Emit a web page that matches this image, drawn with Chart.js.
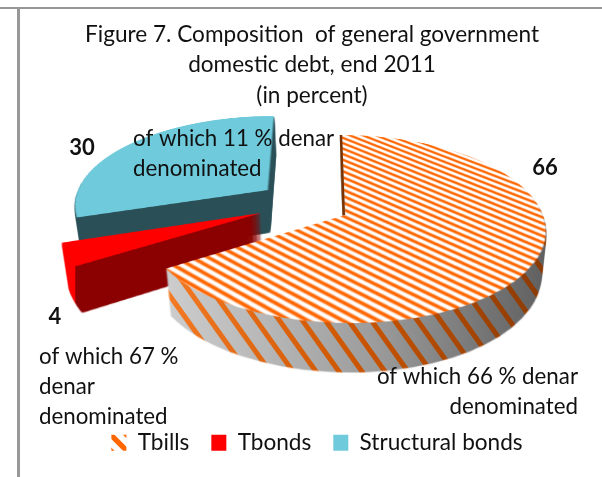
<!DOCTYPE html>
<html>
<head>
<meta charset="utf-8">
<title>Figure 7</title>
<script src="https://cdn.jsdelivr.net/npm/chart.js"></script>
<style>
    body { margin: 0; background: #fff; width: 602px; height: 477px; overflow: hidden; position: relative; }
    canvas { display: block; }
    #rule-top { position: absolute; left: 0; top: 7px; width: 602px; height: 2px; background: #989898; }
    #rule-left { position: absolute; left: 17px; top: 7px; width: 3px; height: 470px; background: #989898; }
</style>
</head>
<body>
<canvas id="chart-canvas" width="602" height="477"></canvas>
<div id="rule-top"></div>
<div id="rule-left"></div>
<script>
const categories = ['Tbills', 'Tbonds', 'Structural bonds'];
const shares = [66, 4, 30];
const titleLines = ['Figure 7. Composition  of general government', 'domestic debt, end 2011', '(in percent)'];
const noteTexts = [
    ['of which 66 % denar', 'denominated'],
    ['of which 67 %', 'denar', 'denominated'],
    ['of which 11 % denar', 'denominated']
];

//where the value and the note of each slice sit
const valueSpots = [[545, 168], [55, 317], [82, 148]];
const noteSpots = [[578, 377, 'right'], [39, 357, 'left'], [133, 139, 'left']];
const LINE_GAP = 30;

//flat disc -> picture: y = (a*v + b) / (1 + c*v), x = (b2 + k*u + g*v) / (1 + c*v)
const APEX_X = 345, APEX_Y = 215;
const PERSP = -0.149, V_GAIN = 59.9, U_GAIN = 198, SKEW = -47;
//how far each slice is pulled out of the pie, in disc units
const sliceShift = [[0, 0], [-0.425, -0.022], [-0.40, -0.283]];
const DEPTH = 44;

function project(u, v) {
    const w = 1 + PERSP * v;
    return [(APEX_X + U_GAIN * u + SKEW * v) / w, (V_GAIN * v + APEX_Y) / w];
}

function stripePattern(size, originX, originY) {
    const tile = document.createElement('canvas');
    tile.width = tile.height = size;
    const t = tile.getContext('2d');
    t.fillStyle = '#fff';
    t.fillRect(0, 0, size, size);
    t.strokeStyle = '#ff6600';
    t.lineWidth = size * 0.33;
    [-size, 0, size].forEach(off => {
        t.beginPath();
        t.moveTo(off - 4, -4);
        t.lineTo(off + size + 4, size + 4);
        t.stroke();
    });
    const pattern = t.createPattern(tile, 'repeat');
    pattern.setTransform(new DOMMatrix().translate(originX, originY));
    return pattern;
}

function newLayer() {
    const c = document.createElement('canvas');
    c.width = 602;
    c.height = 477;
    return c;
}

//bends one flat arc of the chart into the tilted view
function warpArc(arc, shift) {
    const R = arc.outerRadius;
    const size = Math.ceil(R * 2 + 20);
    const flat = document.createElement('canvas');
    flat.width = flat.height = size;
    const f = flat.getContext('2d');
    f.save();
    f.translate(size / 2 - arc.x, size / 2 - arc.y);
    arc.draw(f);
    f.restore();

    const out = newLayer();
    const o = out.getContext('2d');
    const rowV = y => (y - APEX_Y) / (V_GAIN - PERSP * y);
    for (let y = 90; y < 400; y++) {
        const v = rowV(y), vNext = rowV(y + 1);
        const vs = v - shift[1];
        if (Math.abs(vs) > 1.05) continue;
        const half = size / (2 * R);
        const left = project(-half + shift[0], v)[0];
        const right = project(half + shift[0], v)[0];
        o.drawImage(flat, 0, size / 2 + vs * R, size, (vNext - v) * R, left, y, right - left, 1);
    }
    return out;
}

//stacks the top shape downwards and paints the stack
function buildWall(top, paint) {
    const wall = newLayer();
    const w = wall.getContext('2d');
    for (let d = DEPTH; d > 0; d--) {
        const t = d / DEPTH;
        const sx = 1 - 0.025 * t, sy = 1 + 0.05 * t;
        w.setTransform(sx, 0, 0, sy, APEX_X * (1 - sx), APEX_Y * (1 - sy) + d);
        w.drawImage(top, 0, 0);
    }
    w.setTransform(1, 0, 0, 1, 0, 0);
    w.globalCompositeOperation = 'source-atop';
    paint(w);
    return wall;
}

function billsWall(w) {
    const gray = w.createLinearGradient(165, 0, 545, 0);
    gray.addColorStop(0, '#cdcdcd');
    gray.addColorStop(0.25, '#b8b8b8');
    gray.addColorStop(0.55, '#9c9c9c');
    gray.addColorStop(1, '#606060');
    w.fillStyle = gray;
    w.fillRect(0, 0, 602, 477);
    const stripe = w.createLinearGradient(165, 0, 545, 0);
    stripe.addColorStop(0, '#f47a24');
    stripe.addColorStop(0.5, '#cc5500');
    stripe.addColorStop(1, '#8a3a05');
    w.strokeStyle = stripe;
    w.lineWidth = 5;
    for (let x = -100; x < 640; x += 23) {
        w.beginPath();
        w.moveTo(x, 240);
        w.lineTo(x + 110, 394);
        w.stroke();
    }
}

function bondsWall(w) {
    //outer rim stays bright, the cut face is dark
    const edge = project(Math.sin(237.6 * Math.PI / 180) + sliceShift[1][0], -Math.cos(237.6 * Math.PI / 180) + sliceShift[1][1])[0];
    w.fillStyle = '#ff0000';
    w.fillRect(0, 0, edge, 477);
    w.fillStyle = '#8b0000';
    w.fillRect(edge, 0, 602, 477);
}

function structuralWall(w) {
    w.fillStyle = '#2b4f57';
    w.fillRect(0, 0, 602, 477);
}

const wallPainters = [billsWall, bondsWall, structuralWall];

const tiltedPie = {
    id: 'tiltedPie',
    afterLayout(chart) {
        chart.legend.left += 5;
        chart.legend.right += 5;
    },
    beforeDatasetsDraw(chart) {
        const ctx = chart.ctx;
        const arcs = chart.getDatasetMeta(0).data;
        //back to front
        [2, 1, 0].forEach(i => {
            const top = warpArc(arcs[i], sliceShift[i]);
            ctx.drawImage(buildWall(top, wallPainters[i]), 0, 0);
            ctx.drawImage(top, 0, 0);
            if (i === 0) {
                const a = project(0, -1), b = project(0, 0);
                ctx.fillStyle = '#7a3300';
                ctx.beginPath();
                ctx.moveTo(a[0] - 1.5, a[1]);
                ctx.lineTo(a[0] + 1, a[1]);
                ctx.lineTo(b[0], b[1]);
                ctx.lineTo(b[0] - 2.5, b[1]);
                ctx.fill();
            }
        });
        return false;
    },
    afterDraw(chart) {
        const ctx = chart.ctx;
        ctx.save();
        ctx.fillStyle = '#111';
        ctx.textBaseline = 'middle';
        ctx.font = 'bold 22px Lato';
        ctx.textAlign = 'center';
        shares.forEach((s, i) => ctx.fillText(String(s), valueSpots[i][0], valueSpots[i][1]));
        ctx.font = '22.3px Lato';
        noteTexts.forEach((lines, i) => {
            ctx.textAlign = noteSpots[i][2];
            lines.forEach((line, n) => ctx.fillText(line, noteSpots[i][0], noteSpots[i][1] + n * LINE_GAP));
        });
        ctx.restore();
    }
};

Chart.defaults.font.family = 'Lato';
Chart.defaults.color = '#111';

new Chart(document.getElementById('chart-canvas'), {
    type: 'pie',
    data: {
        labels: categories,
        datasets: [{
            data: shares,
            backgroundColor: [stripePattern(11, 0, 0), '#ff0000', '#6fcbdc'],
            borderWidth: 0
        }]
    },
    options: {
        responsive: false,
        animation: false,
        events: [],
        layout: { padding: { left: 22, top: 19, bottom: 13 } },
        plugins: {
            title: {
                display: true,
                text: titleLines,
                font: { size: 22.6, weight: 'normal', lineHeight: 1.35 },
                padding: { top: 0, bottom: 10 }
            },
            legend: {
                position: 'bottom',
                labels: {
                    boxWidth: 15,
                    boxHeight: 16,
                    font: { size: 22.6 },
                    padding: 22,
                    generateLabels(chart) {
                        const items = Chart.overrides.pie.plugins.legend.labels.generateLabels(chart);
                        items[0].fillStyle = stripePattern(16, 110, 434);
                        return items;
                    }
                }
            },
            tooltip: { enabled: false }
        }
    },
    plugins: [tiltedPie]
});
</script>
</body>
</html>
